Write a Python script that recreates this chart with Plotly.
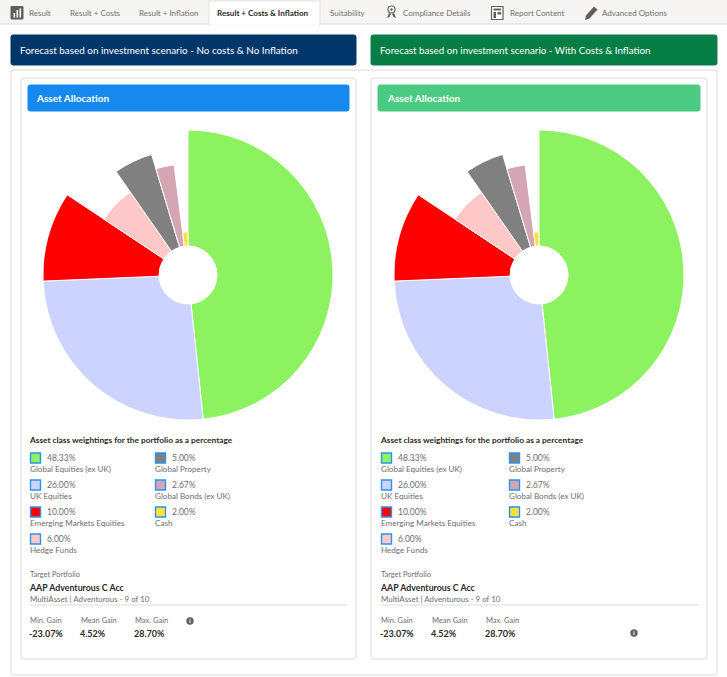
import numpy as np
import plotly.graph_objects as go

# asset classes, clockwise from 12 o'clock
categories = ["Global Equities (ex UK)", "UK Equities", "Emerging Markets Equities", "Hedge Funds",
              "Global Property", "Global Bonds (ex UK)", "Cash"]
weights = [48.33, 26.00, 10.00, 6.00, 5.00, 2.67, 2.00]
# outer radius of each slice
radii = [145, 145, 145, 101, 126, 111, 43]
slice_colors = ["#8CF260", "#CDD3FF", "#FF0000", "#FFC8C8", "#808080", "#D4A6B3", "#FFE13C"]

tab_labels = ["Result", "Result + Costs", "Result + Inflation", "Result + Costs & Inflation",
              "Suitability", "Compliance Details", "Report Content", "Advanced Options"]
tab_x = [29, 70, 139, 218, 330, 403, 510, 602]

gain_labels = ["Min. Gain", "Mean Gain", "Max. Gain"]
gain_values = ["-23.07%", "4.52%", "28.70%"]

FONT = "Lato, 'Open Sans', sans-serif"
TXT = "#3E3E3C"
GREY = "#6B6D70"

fig = go.Figure()
shapes = []
notes = []


def rect(x0, y0, x1, y1, fill="rgba(0,0,0,0)", line="rgba(0,0,0,0)", w=1, r=0):
    if r:
        path = (f"M {x0+r} {y0} L {x1-r} {y0} Q {x1} {y0} {x1} {y0+r} L {x1} {y1-r} Q {x1} {y1} {x1-r} {y1} "
                f"L {x0+r} {y1} Q {x0} {y1} {x0} {y1-r} L {x0} {y0+r} Q {x0} {y0} {x0+r} {y0} Z")
        shapes.append(dict(type="path", xref="x", yref="y", path=path, fillcolor=fill,
                           line=dict(color=line, width=w), layer="below"))
    else:
        shapes.append(dict(type="rect", xref="x", yref="y", x0=x0, y0=y0, x1=x1, y1=y1,
                           fillcolor=fill, line=dict(color=line, width=w), layer="below"))


def text(x, y, s, size=8.0, color=TXT, bold=False):
    if bold:
        s = "<b>" + s + "</b>"
    # annotations carry 2px of padding, pull it back
    notes.append(dict(xref="x", yref="y", x=x, y=y, text=s, showarrow=False, xanchor="left",
                      yanchor="middle", xshift=-3 if bold else -2,
                      font=dict(family=FONT, size=size, color=color)))


# tab strip
rect(0, 0, 727, 24, fill="#F6F5F3", line="#F6F5F3")
shapes.append(dict(type="line", xref="x", yref="y", x0=0, x1=727, y0=24, y1=24,
                   line=dict(color="#DDDBDA", width=1), layer="below"))
rect(209, 1, 320, 25, fill="white", line="#E4E2E0")
shapes.append(dict(type="line", xref="x", yref="y", x0=210, x1=319, y0=24.5, y1=24.5,
                   line=dict(color="white", width=2), layer="below"))
for lab, tx in zip(tab_labels, tab_x):
    active = lab == "Result + Costs & Inflation"
    text(tx, 12.5, lab, size=8.1 if active else 8.0, color="#2B2826" if active else "#706E6B", bold=active)

# tab icons
rect(11, 6.5, 23, 19, fill="#5F5F5F", line="#5F5F5F")
for bx, top in zip([13.5, 16.5, 19.5], [13, 10, 8.5]):
    rect(bx, top, bx + 1.6, 17.5, fill="white")
shapes.append(dict(type="circle", xref="x", yref="y", x0=388, x1=395, y0=6, y1=13,
                   fillcolor="white", line=dict(color="#5F5F5F", width=1.2), layer="below"))
shapes.append(dict(type="circle", xref="x", yref="y", x0=390.3, x1=392.7, y0=8.3, y1=10.7,
                   fillcolor="#5F5F5F", line=dict(width=0), layer="below"))
shapes.append(dict(type="path", xref="x", yref="y", path="M 389 13 L 387 18 L 389.5 17 L 391 14 Z",
                   fillcolor="#5F5F5F", line=dict(width=0), layer="below"))
shapes.append(dict(type="path", xref="x", yref="y", path="M 394 13 L 396 18 L 393.5 17 L 392 14 Z",
                   fillcolor="#5F5F5F", line=dict(width=0), layer="below"))
rect(491.5, 6.5, 503, 19.5, fill="white", line="#5F5F5F", w=1.2)
rect(493.5, 8.5, 501, 10.5, fill="#5F5F5F")
rect(493.5, 12, 496, 18, fill="#5F5F5F")
rect(497.5, 12, 501, 14.5, fill="#5F5F5F")
shapes.append(dict(type="path", xref="x", yref="y",
                   path="M 585 20 L 586 15.5 L 594 6.5 L 597.5 9.5 L 589.5 18.5 Z",
                   fillcolor="#5F5F5F", line=dict(width=0), layer="below"))

# scenario headers
rect(11, 35, 356, 65, fill="#01366A", line="#01366A", r=2)
rect(371, 35, 717, 65, fill="#047E45", line="#047E45", r=2)
text(20, 49.5, "Forecast based on investment scenario - No costs &amp; No Inflation", size=9.9, color="white")
text(380, 49.5, "Forecast based on investment scenario - With Costs &amp; Inflation", size=9.8, color="white")

# outer card
rect(11, 70, 717, 675, fill="white", line="#DDDBDA", r=3)

# one card per portfolio
cards = [dict(cx=188, left=21, right=356, head="#1589EE", pad=30, col2=155, info=(190, 621), polar="polar"),
         dict(cx=539, left=371, right=707, head="#4BCA81", pad=381, col2=509, info=(634, 633), polar="polar2")]

for c in cards:
    pad = c["pad"]
    rect(c["left"], 78, c["right"], 659, fill="white", line="#DDDBDA", r=3)
    rect(c["left"] + 7, 85, c["right"] - 7, 111, fill=c["head"], line=c["head"], r=2)
    text(pad + 7, 98, "Asset Allocation", size=10, color="white", bold=True)

    # real data slices
    starts = np.cumsum([0] + weights[:-1])
    fig.add_trace(go.Barpolar(
        r=[v - 29 for v in radii],
        base=29,
        theta=[(s + w / 2) * 3.6 for s, w in zip(starts, weights)],
        width=[w * 3.6 for w in weights],
        marker=dict(color=slice_colors, line=dict(color="white", width=1)),
        text=categories,
        hoverinfo="text",
        subplot=c["polar"],
        showlegend=False,
    ))

    text(pad, 440, "Asset class weightings for the portfolio as a percentage", size=8.3, color="#2B2826", bold=True)

    # swatch legend, 4 rows then 3
    for i, (cat, w, col) in enumerate(zip(categories, weights, slice_colors)):
        row = i if i < 4 else i - 4
        colx = pad if i < 4 else c["col2"]
        vy = 458 + row * 27
        rect(colx + 0.5, vy - 5, colx + 10.5, vy + 5, fill=col, line="#2F93EE", w=1.4)
        text(colx + 17, vy, "%.2f%%" % w, size=8.5, color=GREY)
        text(colx, vy + 11, cat, size=8.1, color=GREY)

    text(pad, 574, "Target Portfolio", size=7.4, color=GREY)
    text(pad, 587, "AAP Adventurous C Acc", size=8.8, color="#2B2826", bold=True)
    text(pad, 599, "MultiAsset | Adventurous - 9 of 10", size=7.9, color=GREY)
    shapes.append(dict(type="line", xref="x", yref="y", x0=pad, x1=c["right"] - 9, y0=605, y1=605,
                       line=dict(color="#DDDBDA", width=1), layer="below"))
    for lab, val, off in zip(gain_labels, gain_values, [0, 51, 105]):
        text(pad + off, 620.5, lab, size=7.5, color=GREY)
        text(pad + off, 633, val, size=9, color="#2B2826", bold=True)

    ix, iy = c["info"]
    shapes.append(dict(type="circle", xref="x", yref="y", x0=ix - 3.7, x1=ix + 3.7, y0=iy - 3.7, y1=iy + 3.7,
                       fillcolor="#5F5F5F", line=dict(width=0), layer="below"))
    rect(ix - 0.5, iy - 0.8, ix + 0.5, iy + 2, fill="white")
    rect(ix - 0.5, iy - 2.3, ix + 0.5, iy - 1.3, fill="white")


def polar_layout(cx):
    return dict(
        domain=dict(x=[(cx - 145) / 727, (cx + 145) / 727], y=[(677 - 420) / 677, (677 - 130) / 677]),
        bgcolor="rgba(0,0,0,0)",
        radialaxis=dict(visible=False, range=[0, 145]),
        angularaxis=dict(visible=False, rotation=90, direction="clockwise"),
    )


fig.update_layout(
    width=727, height=677,
    margin=dict(l=0, r=0, t=0, b=0),
    paper_bgcolor="white",
    plot_bgcolor="rgba(0,0,0,0)",
    showlegend=False,
    xaxis=dict(visible=False, range=[0, 727], domain=[0, 1], fixedrange=True),
    yaxis=dict(visible=False, range=[677, 0], domain=[0, 1], fixedrange=True),
    polar=polar_layout(188),
    polar2=polar_layout(539),
    shapes=shapes,
    annotations=notes,
)
# empty trace keeps the pixel-coordinate axes alive
fig.add_trace(go.Scatter(x=[0, 727], y=[0, 677], mode="markers", marker=dict(opacity=0),
                         hoverinfo="skip", showlegend=False))

fig.write_html("out.html", config=dict(displayModeBar=False),
               post_script="document.body.style.margin='0';document.body.style.overflow='hidden';")
